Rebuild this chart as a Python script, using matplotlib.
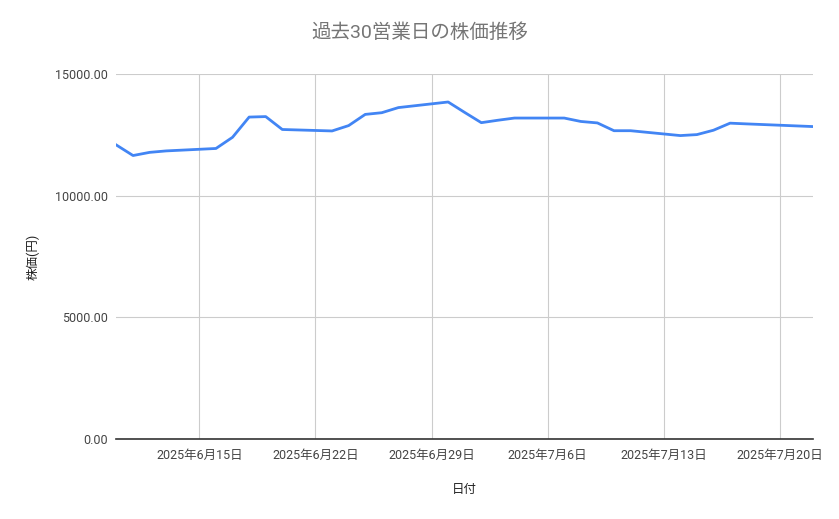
import matplotlib
matplotlib.use('Agg')
import matplotlib.pyplot as plt
import pandas as pd

plt.rcParams['font.family'] = ['Roboto', 'Noto Sans CJK JP', 'DejaVu Sans']

# 30 business days (7/21 is a holiday)
dates = pd.to_datetime([
    '2025-06-10', '2025-06-11', '2025-06-12', '2025-06-13', '2025-06-16',
    '2025-06-17', '2025-06-18', '2025-06-19', '2025-06-20', '2025-06-23',
    '2025-06-24', '2025-06-25', '2025-06-26', '2025-06-27', '2025-06-30',
    '2025-07-01', '2025-07-02', '2025-07-03', '2025-07-04', '2025-07-07',
    '2025-07-08', '2025-07-09', '2025-07-10', '2025-07-11', '2025-07-14',
    '2025-07-15', '2025-07-16', '2025-07-17', '2025-07-18', '2025-07-22',
])
prices = [
    12080, 11650, 11780, 11840, 11940,
    12400, 13230, 13250, 12720, 12660,
    12880, 13340, 13410, 13620, 13850,
    13420, 13000, 13100, 13190, 13190,
    13050, 12990, 12670, 12670, 12470,
    12510, 12690, 12980, 12950, 12840,
]
tick_dates = pd.to_datetime(['2025-06-15', '2025-06-22', '2025-06-29',
                             '2025-07-06', '2025-07-13', '2025-07-20'])
y_ticks = [0, 5000, 10000, 15000]

fig = plt.figure(figsize=(8.39, 5.19), dpi=100)
ax = fig.add_axes([0.1388, 0.1541, 0.8302, 0.7033])

ax.plot(dates, prices, color='#4285f4', linewidth=2)

ax.set_xlim(dates[0], dates[-1])
ax.set_ylim(0, 15000)
ax.set_yticks(y_ticks)
ax.set_yticklabels([f'{v:.2f}' for v in y_ticks])
ax.set_xticks(tick_dates)
ax.set_xticklabels([f'{d.year}年{d.month}月{d.day}日' for d in tick_dates])

ax.grid(True, color='#cccccc', linewidth=0.8)
ax.set_axisbelow(True)
for s in ['top', 'right', 'left']:
    ax.spines[s].set_visible(False)
ax.spines['bottom'].set_color('#333333')
ax.spines['bottom'].set_linewidth(1.2)
ax.tick_params(axis='both', length=0, labelsize=9, colors='#444444')
ax.tick_params(axis='y', pad=6)
ax.tick_params(axis='x', pad=7)

ax.set_xlabel('日付', fontsize=9, color='#222222', labelpad=15)
ax.set_ylabel('株価(円)', fontsize=9, color='#222222', labelpad=11)
fig.suptitle('過去30営業日の株価推移', x=0.5, y=0.955, fontsize=14, color='#757575')

fig.savefig('out.png', dpi=100)
